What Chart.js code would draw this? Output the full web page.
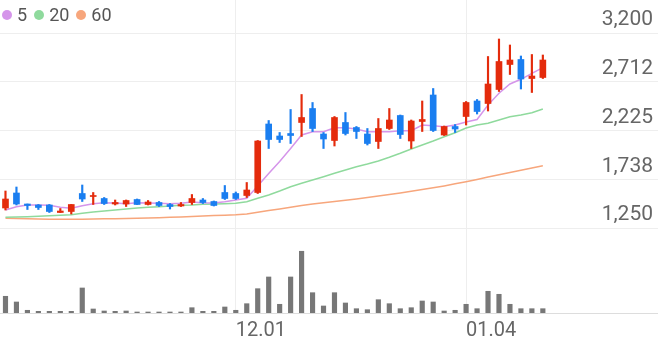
<!DOCTYPE html>
<html>
<head>
<meta charset="utf-8">
<script src="https://cdn.jsdelivr.net/npm/chart.js@4.4.1/dist/chart.umd.min.js"></script>
<style>
    html, body { margin: 0; padding: 0; background: #fff; }
    #wrap { position: relative; width: 658px; height: 342px; }
    #legend {
        position: absolute; left: 2px; top: 4px;
        display: flex; align-items: center;
        font: 18px Roboto, sans-serif; color: #555;
    }
    .item { display: flex; align-items: center; margin-right: 7px; }
    .dot { width: 10px; height: 10px; border-radius: 50%; margin-right: 5px; }
</style>
</head>
<body>
<div id="wrap">
    <canvas id="priceChart"></canvas>
    <div id="legend"></div>
</div>
<script>
// trading days (the last slots are empty room on the right)
const dates = [
    '11.02', '11.03', '11.06', '11.07', '11.08', '11.09', '11.10', '11.13', '11.14', '11.15',
    '11.16', '11.17', '11.20', '11.21', '11.22', '11.23', '11.24', '11.27', '11.28', '11.29',
    '11.30', '12.01', '12.04', '12.05', '12.06', '12.07', '12.08', '12.11', '12.12', '12.13',
    '12.14', '12.15', '12.18', '12.19', '12.20', '12.21', '12.22', '12.26', '12.27', '12.28',
    '01.02', '01.03', '01.04', '01.05', '01.08', '01.09', '01.10', '01.11', '01.12', '01.15',
    '01.16', '01.17', '01.18', '01.19', '01.22', '01.23', '01.24', '01.25', '01.26', '01.29'
];
const tickDates = ['12.01', '01.04'];

const opens = [
    1450, 1600, 1490, 1480, 1480, 1405, 1415, 1595, 1565, 1545,
    1490, 1490, 1535, 1485, 1505, 1485, 1470, 1505, 1530, 1515,
    1605, 1595, 1575, 1605, 2290, 2170, 2195, 2305, 2445, 2190,
    2125, 2305, 2255, 2190, 2115, 2245, 2375, 2120, 2315, 2580,
    2180, 2265, 2365, 2520, 2495, 2635, 2885, 2935, 2745, 2755
];
const closes = [
    1540, 1490, 1475, 1455, 1415, 1420, 1485, 1540, 1575, 1495,
    1505, 1525, 1485, 1510, 1475, 1465, 1485, 1545, 1505, 1475,
    1545, 1545, 1630, 2120, 2135, 2135, 2175, 2355, 2245, 2140,
    2355, 2195, 2215, 2095, 2245, 2330, 2185, 2320, 2335, 2225,
    2265, 2240, 2505, 2415, 2690, 2915, 2930, 2740, 2770, 2930
];
const highs = [
    1620, 1660, 1490, 1485, 1485, 1445, 1485, 1680, 1605, 1555,
    1530, 1530, 1540, 1525, 1515, 1495, 1505, 1585, 1545, 1520,
    1675, 1610, 1705, 2125, 2325, 2205, 2435, 2585, 2505, 2205,
    2365, 2405, 2265, 2245, 2345, 2445, 2380, 2330, 2520, 2645,
    2270, 2285, 2515, 2535, 2965, 3140, 3080, 2970, 2985, 2980
];
const lows = [
    1430, 1480, 1435, 1435, 1405, 1405, 1390, 1515, 1485, 1485,
    1480, 1465, 1485, 1480, 1465, 1440, 1465, 1485, 1495, 1470,
    1535, 1535, 1555, 1595, 2045, 2105, 2095, 2165, 2215, 2045,
    2070, 2180, 2145, 2080, 2045, 2235, 2145, 2045, 2215, 2215,
    2175, 2205, 2280, 2390, 2420, 2615, 2785, 2640, 2605, 2745
];
// volume, thousand shares
const volumes = [
    167, 110, 27, 17, 17, 17, 17, 250, 40, 20,
    17, 20, 10, 10, 10, 10, 10, 53, 17, 17,
    60, 27, 93, 243, 360, 87, 360, 617, 203, 70,
    203, 100, 43, 33, 133, 93, 43, 53, 120, 110,
    20, 27, 87, 43, 217, 187, 87, 43, 43, 43
];

// moving averages
const ma5 = [
    1430, 1463, 1480, 1480, 1477, 1457, 1447, 1473, 1493, 1503,
    1500, 1493, 1503, 1500, 1497, 1493, 1497, 1510, 1503, 1500,
    1513, 1530, 1547, 1670, 1795, 1915, 2045, 2180, 2213, 2213,
    2253, 2253, 2240, 2213, 2213, 2213, 2223, 2223, 2280, 2273,
    2263, 2280, 2310, 2335, 2480, 2597, 2690, 2737, 2797, 2853
];
const ma20 = [
    1357, 1360, 1363, 1367, 1373, 1377, 1383, 1397, 1410, 1420,
    1430, 1440, 1450, 1457, 1463, 1470, 1477, 1480, 1487, 1490,
    1493, 1497, 1513, 1547, 1580, 1620, 1663, 1697, 1730, 1763,
    1797, 1830, 1863, 1890, 1920, 1957, 1997, 2040, 2080, 2120,
    2163, 2203, 2250, 2280, 2297, 2330, 2363, 2380, 2403, 2440
];
const ma60 = [
    1347, 1345, 1343, 1340, 1338, 1337, 1337, 1338, 1340, 1342,
    1343, 1345, 1347, 1350, 1353, 1357, 1360, 1365, 1370, 1375,
    1378, 1382, 1390, 1407, 1424, 1441, 1458, 1475, 1489, 1502,
    1515, 1528, 1541, 1554, 1569, 1585, 1601, 1617, 1634, 1652,
    1671, 1692, 1713, 1736, 1759, 1782, 1805, 1828, 1851, 1873
];

const priceTicks = [1250, 1737.5, 2225, 2712.5, 3200];
const priceTickLabels = ['1,250', '1,738', '2,225', '2,712', '3,200'];

const maNames = ['5', '20', '60'];
const maColors = ['#d595ea', '#8fda9d', '#f7a67c'];

const UP = '#e42b0c';
const DOWN = '#1a7ef0';
const candleColors = opens.map((o, i) => closes[i] >= o ? UP : DOWN);

// html legend, top left
document.getElementById('legend').innerHTML = maNames.map((n, i) =>
    `<span class="item"><span class="dot" style="background:${maColors[i]}"></span>${n}</span>`
).join('');

let priceChart = null;

function renderPriceChart() {
    const ctx = document.getElementById('priceChart');
    if (priceChart) {
        priceChart.destroy();
    }

    priceChart = new Chart(ctx, {
        data: {
            labels: dates,
            datasets: [
                {
                    type: 'bar',
                    label: 'body',
                    data: opens.map((o, i) => [o, closes[i]]),
                    backgroundColor: candleColors,
                    barThickness: 6,
                    minBarLength: 1,
                    grouped: false,
                    yAxisID: 'y',
                    order: 0
                },
                {
                    type: 'bar',
                    label: 'wick',
                    data: lows.map((l, i) => [l, highs[i]]),
                    backgroundColor: candleColors,
                    barThickness: 1.5,
                    grouped: false,
                    yAxisID: 'y',
                    order: 1
                },
                {
                    type: 'bar',
                    label: 'volume',
                    data: volumes,
                    backgroundColor: '#777777',
                    barThickness: 4.5,
                    grouped: false,
                    yAxisID: 'vol',
                    order: 2
                },
                ...[ma5, ma20, ma60].map((d, i) => ({
                    type: 'line',
                    label: maNames[i],
                    data: d,
                    borderColor: maColors[i],
                    borderWidth: 1.5,
                    pointRadius: 0,
                    tension: 0,
                    yAxisID: 'y',
                    order: 3 + i
                }))
            ]
        },
        options: {
            responsive: true,
            maintainAspectRatio: false,
            animation: false,
            layout: { padding: 0 },
            plugins: {
                legend: { display: false },
                tooltip: { enabled: false }
            },
            scales: {
                x: {
                    type: 'category',
                    offset: true,
                    grid: { offset: false, color: '#eeeeee', drawTicks: false },
                    border: { display: true, color: '#dddddd' },
                    ticks: {
                        autoSkip: false,
                        maxRotation: 0,
                        align: 'start',
                        padding: 6,
                        color: '#666666',
                        font: { family: 'Roboto', size: 20 }
                    },
                    afterBuildTicks: (scale) => {
                        scale.ticks = scale.ticks.filter(t => tickDates.includes(dates[t.value]));
                    },
                    afterFit: (scale) => {
                        scale.height = 29;
                        scale.paddingLeft = 0;
                        scale.paddingRight = 0;
                    }
                },
                y: {
                    position: 'right',
                    min: 400,
                    max: 3530,
                    grid: { color: '#eeeeee', drawTicks: false },
                    border: { display: false },
                    afterBuildTicks: (scale) => {
                        scale.ticks = priceTicks.map(v => ({ value: v }));
                    },
                    ticks: {
                        mirror: true,
                        labelOffset: -13,
                        padding: -5,
                        color: '#666666',
                        font: { family: 'Roboto', size: 21 },
                        callback: (v, i) => priceTickLabels[i]
                    },
                    afterFit: (scale) => {
                        scale.width = 0;
                        scale.paddingTop = 0;
                        scale.paddingBottom = 0;
                    }
                },
                vol: {
                    display: false,
                    min: 0,
                    max: Math.max(...volumes) * 5.07
                }
            }
        }
    });
}

renderPriceChart();
</script>
</body>
</html>
